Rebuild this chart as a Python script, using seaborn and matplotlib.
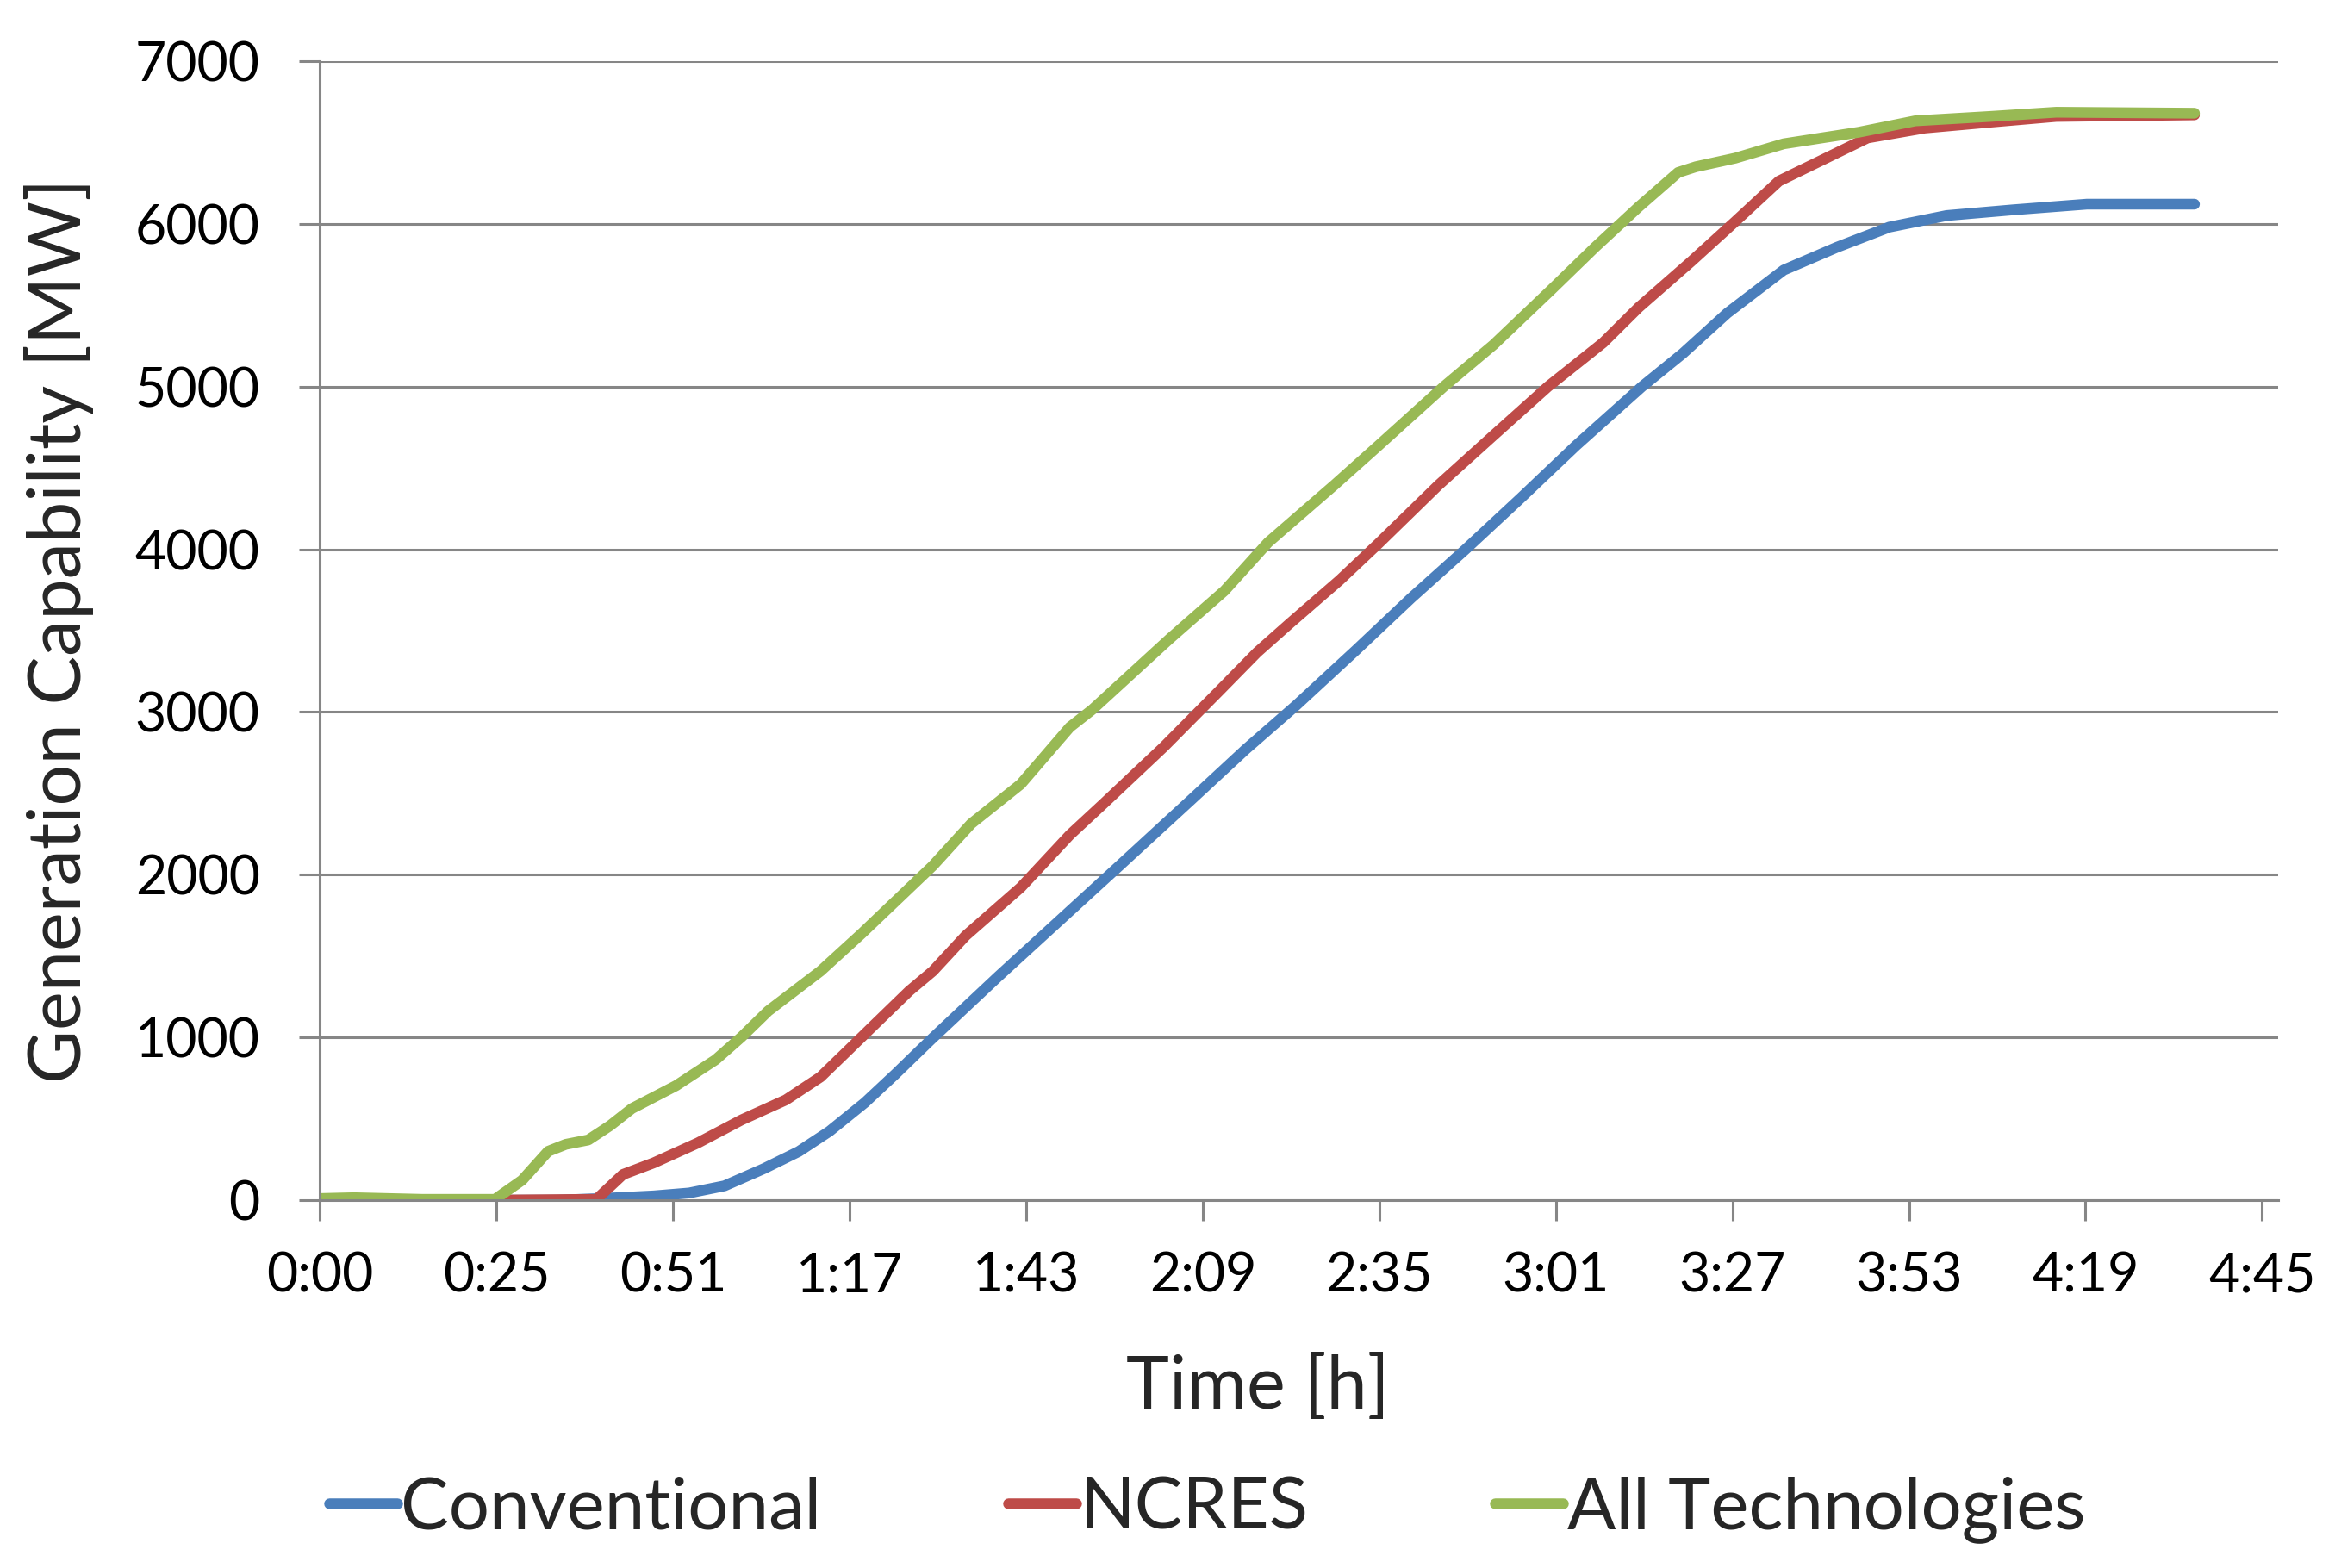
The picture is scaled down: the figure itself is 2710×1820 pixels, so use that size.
import numpy as np
import pandas as pd
import matplotlib
matplotlib.use("Agg")
import matplotlib.pyplot as plt
import seaborn as sns

# ---- data (time in minutes, generation capability in MW) ----
conv_t = [0, 35, 41.3, 49.0, 54.2, 59.4, 65.2, 70.3, 74.8, 80.0, 84.5, 89.7, 99.6, 109.4,
          117.5, 127.9, 135.9, 143.3, 152.1, 160.2, 168.2, 176.3, 184.4, 194.1, 200.1,
          206.6, 214.9, 222.7, 230.4, 238.8, 248.5, 259.4, 275.2]
conv_v = [0, 0, 10, 26, 44, 88, 194, 299, 423, 599, 775, 986, 1375, 1750,
          2060, 2460, 2770, 3040, 3380, 3700, 4000, 4315, 4637, 5000, 5204,
          5451, 5716, 5856, 5980, 6051, 6086, 6121, 6121]

ncres_t = [0, 25, 40.6, 44.5, 49.0, 55.5, 61.9, 68.4, 73.5, 77.4, 81.3, 86.5, 90.0, 94.8,
           102.9, 110.1, 115.0, 123.9, 131.9, 137.6, 142.4, 149.7, 155.4, 164.2, 172.3,
           180.3, 188.4, 193.6, 201.3, 207.8, 214.2, 219.4, 227.2, 235.6, 245.2, 254.9, 275.2]
ncres_v = [0, 0, 5, 158, 229, 352, 493, 616, 757, 915, 1074, 1285, 1408, 1625,
           1922, 2245, 2435, 2786, 3124, 3367, 3545, 3810, 4035, 4394, 4700,
           5000, 5270, 5486, 5768, 6015, 6263, 6369, 6528, 6589, 6625, 6660, 6670]

all_t = [0, 5, 15, 25.7, 29.7, 33.5, 36.1, 39.4, 42.6, 45.8, 52.3, 58.1, 61.9, 65.8,
         73.5, 79.5, 90.0, 95.6, 102.9, 110.1, 113.4, 124.7, 132.8, 139.2, 148.9, 155.4,
         165.0, 172.3, 180.7, 187.2, 193.6, 199.4, 202.0, 207.8, 214.9, 225.9, 234.2,
         245.2, 254.9, 275.2]
all_v = [10, 15, 5, 5, 123, 300, 343, 370, 458, 563, 704, 863, 1003, 1162,
         1408, 1637, 2056, 2313, 2557, 2907, 3015, 3448, 3745, 4042, 4394, 4637,
         5000, 5257, 5592, 5856, 6104, 6316, 6351, 6404, 6492, 6563, 6633,
         6660, 6686, 6680]

series_names = ["Conventional", "NCRES", "All Technologies"]
series_colors = ["#4A7EBB", "#BE4B48", "#98B954"]

x_ticks_min = [0, 25.92, 51.84, 77.76, 103.68, 129.6, 155.52, 181.44, 207.36, 233.28, 259.2, 285.12]
x_tick_labels = ["0:00", "0:25", "0:51", "1:17", "1:43", "2:09", "2:35", "3:01",
                 "3:27", "3:53", "4:19", "4:45"]
y_ticks = [0, 1000, 2000, 3000, 4000, 5000, 6000, 7000]

df = pd.concat([
    pd.DataFrame({"t": conv_t, "v": conv_v, "s": series_names[0]}),
    pd.DataFrame({"t": ncres_t, "v": ncres_v, "s": series_names[1]}),
    pd.DataFrame({"t": all_t, "v": all_v, "s": series_names[2]}),
], ignore_index=True)

sns.set_style("white")
plt.rcParams["font.family"] = ["Lato", "DejaVu Sans"]

fig = plt.figure(figsize=(27.1, 18.2), dpi=100)
ax = fig.add_axes([0.137, 0.2346, 0.8387, 0.7264])

grid_c = "#868686"
LW = 9
sns.lineplot(data=df, x="t", y="v", hue="s", hue_order=series_names,
             palette=series_colors, linewidth=LW, ax=ax, sort=False,
             estimator=None, legend=True, solid_capstyle="round",
             solid_joinstyle="round")

ax.set_xlim(0, 287.5)
ax.set_ylim(0, 7000)
ax.set_xticks(x_ticks_min)
ax.set_xticklabels(x_tick_labels)
ax.set_yticks(y_ticks)
ax.set_yticklabels([str(v) for v in y_ticks])
ax.yaxis.grid(True, color=grid_c, linewidth=2.2)
ax.xaxis.grid(False)
ax.set_axisbelow(True)
for s in ["top", "right"]:
    ax.spines[s].set_visible(False)
for s in ["left", "bottom"]:
    ax.spines[s].set_color(grid_c)
    ax.spines[s].set_linewidth(2.2)
ax.tick_params(axis="both", which="both", direction="out", length=17, width=2.2,
               color=grid_c, labelsize=45, labelcolor="black")
ax.tick_params(axis="x", pad=26, bottom=True)
ax.tick_params(axis="y", pad=33, left=True)

ax.set_xlabel("Time [h]", fontsize=61)
ax.set_ylabel("Generation Capability [MW]", fontsize=61)
ax.xaxis.set_label_coords(0.479, -0.165)
ax.yaxis.set_label_coords(-0.133, 0.5)
ax.xaxis.label.set_verticalalignment("center")
ax.yaxis.label.set_verticalalignment("center")

handles, labels = ax.get_legend_handles_labels()
ax.get_legend().remove()
leg = fig.legend(handles, labels, loc="center", bbox_to_anchor=(0.517, 0.0374),
                 ncol=3, frameon=False, fontsize=60, handlelength=0.95,
                 handletextpad=0.05, columnspacing=2.6)
for h in leg.get_lines():
    h.set_linewidth(LW)
    h.set_solid_capstyle("round")

fig.savefig("out.png", dpi=100)
